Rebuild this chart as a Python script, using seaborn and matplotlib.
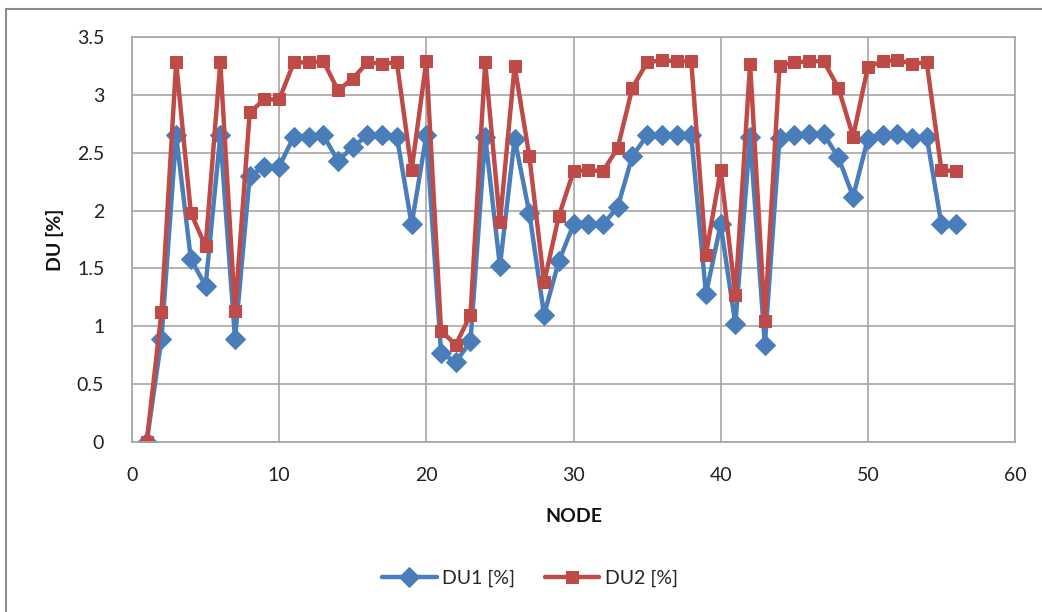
import numpy as np
import pandas as pd
import matplotlib
matplotlib.use("Agg")
import matplotlib.pyplot as plt
import seaborn as sns

nodes = list(range(1, 57))

du1 = [0.00, 0.89, 2.65, 1.58, 1.35, 2.65, 0.89, 2.30, 2.38, 2.38,
       2.64, 2.64, 2.65, 2.43, 2.55, 2.65, 2.65, 2.64, 1.88, 2.65,
       0.77, 0.69, 0.87, 2.64, 1.52, 2.62, 1.98, 1.10, 1.56, 1.88,
       1.88, 1.88, 2.03, 2.47, 2.65, 2.65, 2.65, 2.65, 1.28, 1.88,
       1.02, 2.64, 0.84, 2.63, 2.65, 2.66, 2.66, 2.46, 2.12, 2.62,
       2.65, 2.66, 2.63, 2.64, 1.88, 1.88]

du2 = [0.00, 1.12, 3.28, 1.98, 1.69, 3.28, 1.13, 2.85, 2.96, 2.96,
       3.28, 3.28, 3.29, 3.04, 3.14, 3.28, 3.27, 3.28, 2.35, 3.29,
       0.96, 0.84, 1.10, 3.28, 1.90, 3.25, 2.47, 1.38, 1.95, 2.34,
       2.35, 2.34, 2.54, 3.06, 3.28, 3.30, 3.29, 3.29, 1.62, 2.35,
       1.27, 3.27, 1.05, 3.25, 3.28, 3.29, 3.29, 3.06, 2.64, 3.24,
       3.29, 3.30, 3.27, 3.28, 2.35, 2.34]

series_names = ["DU1 [%]", "DU2 [%]"]
x_ticks = [0, 10, 20, 30, 40, 50, 60]
y_ticks = [0, 0.5, 1, 1.5, 2, 2.5, 3, 3.5]

df = pd.DataFrame({"NODE": nodes, series_names[0]: du1, series_names[1]: du2})

sns.set_theme(style="white")
plt.rcParams["font.family"] = ["Lato", "DejaVu Sans"]

fig = plt.figure(figsize=(10.42, 6.12), dpi=100)
fig.patch.set_facecolor("white")
ax = fig.add_axes([132 / 1042, 1 - 442 / 612, (1015 - 132) / 1042, (442 - 37) / 612])

grid_col = "#a6a6a6"
blue = "#4a7ebb"
red = "#be4b48"

sns.lineplot(data=df, x="NODE", y=series_names[0], ax=ax, color=blue,
             linewidth=3.2, marker="D", markersize=10.5, markeredgecolor=blue,
             label=series_names[0])
sns.lineplot(data=df, x="NODE", y=series_names[1], ax=ax, color=red,
             linewidth=3.2, marker="s", markersize=8.5, markeredgecolor=red,
             label=series_names[1])

ax.set_xlim(0, 60)
ax.set_ylim(0, 3.5)
ax.set_xticks(x_ticks)
ax.set_yticks(y_ticks)
ax.set_yticklabels(["0", "0.5", "1", "1.5", "2", "2.5", "3", "3.5"])
ax.grid(True, color=grid_col, linewidth=1.2)
ax.set_axisbelow(True)
for s in ax.spines.values():
    s.set_color(grid_col)
    s.set_linewidth(1.2)
ax.tick_params(axis="both", which="both", length=7, color=grid_col, width=1.2,
               labelsize=14, labelcolor="#222222", direction="out")
ax.tick_params(axis="y", pad=13)
ax.tick_params(axis="x", pad=11)

ax.set_xlabel("NODE", fontsize=14, fontweight="bold", labelpad=17, color="#111111")
ax.set_ylabel("DU [%]", fontsize=14, fontweight="bold", labelpad=9, color="#111111")

leg = ax.legend(loc="center", bbox_to_anchor=(530 / 1042, 1 - 578 / 612),
                bbox_transform=fig.transFigure, ncol=2, frameon=False,
                fontsize=14, handlelength=2.8, columnspacing=1.5, handletextpad=0.3)

# outer chart frame
fig.add_artist(plt.Line2D([6 / 1042, 6 / 1042], [0, 1 - 9 / 612],
                          transform=fig.transFigure, color="#8c8c8c", linewidth=1.5))
fig.add_artist(plt.Line2D([6 / 1042, 1], [1 - 9 / 612, 1 - 9 / 612],
                          transform=fig.transFigure, color="#8c8c8c", linewidth=1.5))

fig.savefig("out.png", dpi=100)
